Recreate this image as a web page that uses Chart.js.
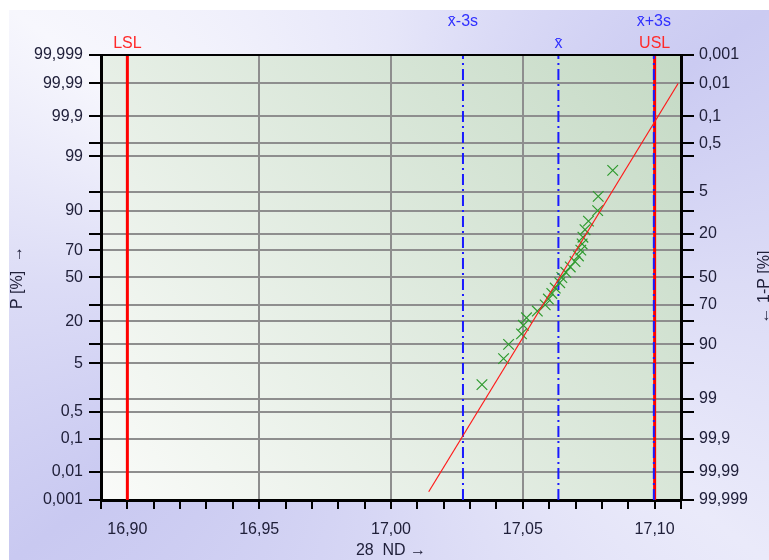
<!DOCTYPE html>
<html>
<head>
<meta charset="utf-8">
<script src="https://cdn.jsdelivr.net/npm/chart.js@4.4.1/dist/chart.umd.min.js"></script>
<style>
  html, body { margin: 0; padding: 0; background: #fff; }
  #wrap { position: relative; width: 769px; height: 560px; overflow: hidden; }
  #bg {
    position: absolute; left: 9px; top: 10px; right: 0; bottom: 0;
    background: conic-gradient(from 0deg at 50% 50%,
      #e6e6f9 0deg, #cbcbf2 54deg, #dcdcf6 90deg, #eaeafa 126deg,
      #d8d8f5 180deg, #c9c9f1 234deg, #dcdcf6 270deg, #f7f7fd 306deg, #e6e6f9 360deg);
  }
  #chart { position: absolute; left: 0; top: 0; }
</style>
</head>
<body>
<div id="wrap">
  <div id="bg"></div>
  <canvas id="chart" width="769" height="560"></canvas>
</div>
<script>
// measured values, sorted, with their plotting positions in %
const sampleX = [17.0345, 17.0427, 17.0446, 17.0495, 17.0502, 17.0514, 17.0555, 17.0585, 17.0597, 17.0610,
                 17.0623, 17.0640, 17.0648, 17.0663, 17.0680, 17.0698, 17.0711, 17.0720, 17.0725, 17.0728,
                 17.0736, 17.0749, 17.0784, 17.0786, 17.0841];
const sampleP = [2, 6, 10, 14, 18, 22, 26, 30, 34, 38,
                 42, 46, 50, 54, 58, 62, 66, 70, 74, 78,
                 82, 86, 90, 94, 98];

// fitted normal line (end points)
const fitX = [17.0143, 17.1089];
const fitP = [0.002, 99.99];

// limits and statistics lines
const limitNames = ['LSL', 'USL'];
const limitValues = [16.90, 17.10];
const statNames = ['x\u0304-3s', 'x\u0304', 'x\u0304+3s'];
const statValues = [17.0273, 17.0635, 17.0997];

// axes
const pGrid = [0.001, 0.01, 0.1, 0.5, 1, 5, 10, 20, 30, 50, 70, 80, 90, 95, 99, 99.5, 99.9, 99.99, 99.999];
const pLabels = [0.001, 0.01, 0.1, 0.5, 5, 20, 50, 70, 90, 99, 99.9, 99.99, 99.999];
const qLabels = [0.001, 0.01, 0.1, 0.5, 5, 20, 50, 70, 90, 99, 99.9, 99.99, 99.999]; // 1-P side
const xMajor = ['16,90', '16,95', '17,00', '17,05', '17,10'];

const fmt = v => String(v).replace('.', ',');

// inverse normal cdf (Acklam)
function probit(p) {
  const a = [-3.969683028665376e+01, 2.209460984245205e+02, -2.759285104469687e+02, 1.383577518672690e+02, -3.066479806614716e+01, 2.506628277459239e+00];
  const b = [-5.447609879822406e+01, 1.615858368580409e+02, -1.556989798598866e+02, 6.680131188771972e+01, -1.328068155288572e+01];
  const c = [-7.784894002430293e-03, -3.223964580411365e-01, -2.400758277161838e+00, -2.549732539343734e+00, 4.374664141464968e+00, 2.938163982698783e+00];
  const d = [7.784695709041462e-03, 3.224671290700398e-01, 2.445134137142996e+00, 3.754408661907416e+00];
  const pl = 0.02425;
  let q, r;
  if (p < pl) {
    q = Math.sqrt(-2 * Math.log(p));
    return (((((c[0]*q+c[1])*q+c[2])*q+c[3])*q+c[4])*q+c[5]) / ((((d[0]*q+d[1])*q+d[2])*q+d[3])*q+1);
  }
  if (p > 1 - pl) {
    q = Math.sqrt(-2 * Math.log(1 - p));
    return -(((((c[0]*q+c[1])*q+c[2])*q+c[3])*q+c[4])*q+c[5]) / ((((d[0]*q+d[1])*q+d[2])*q+d[3])*q+1);
  }
  q = p - 0.5; r = q * q;
  return (((((a[0]*r+a[1])*r+a[2])*r+a[3])*r+a[4])*r+a[5])*q / (((((b[0]*r+b[1])*r+b[2])*r+b[3])*r+b[4])*r+1);
}

// normal probability scale (values in %)
class ProbabilityScale extends Chart.Scale {
  determineDataLimits() {
    this.min = this.options.min;
    this.max = this.options.max;
  }
  buildTicks() {
    return pGrid.map(v => ({ value: v }));
  }
  getLabelForValue(v) { return fmt(v); }
  _dec(v) {
    const z0 = probit(this.min / 100), z1 = probit(this.max / 100);
    return (probit(v / 100) - z0) / (z1 - z0);
  }
  getPixelForValue(v) { return this.getPixelForDecimal(this._dec(v)); }
  getPixelForTick(i) { return this.getPixelForValue(this.ticks[i].value); }
  getValueForPixel(px) {
    const target = this.getDecimalForPixel(px);
    let lo = this.min, hi = this.max;
    for (let i = 0; i < 60; i++) {
      const mid = (lo + hi) / 2;
      if (this._dec(mid) < target) lo = mid; else hi = mid;
    }
    return (lo + hi) / 2;
  }
}
ProbabilityScale.id = 'probability';
ProbabilityScale.defaults = {};
Chart.register(ProbabilityScale);

Chart.defaults.font.family = '"Liberation Sans", Arial, sans-serif';
Chart.defaults.font.size = 16;
Chart.defaults.color = '#20203a';

const vline = (x, p0, p1) => [{ x: x, y: p0 }, { x: x, y: p1 }];
const yMin = pGrid[0], yMax = pGrid[pGrid.length - 1];

const decor = {
  id: 'decor',
  beforeDraw(chart) {
    const { ctx, chartArea: a } = chart;
    const g = ctx.createLinearGradient(a.left, a.bottom, a.right, a.top);
    g.addColorStop(0, '#fafbf9');
    g.addColorStop(1, '#c5dac5');
    ctx.save();
    ctx.fillStyle = g;
    ctx.fillRect(a.left, a.top, a.right - a.left, a.bottom - a.top);
    ctx.restore();
  },
  afterDraw(chart) {
    const { ctx, chartArea: a, scales } = chart;
    ctx.save();
    ctx.strokeStyle = '#000';
    ctx.lineWidth = 2;
    ctx.beginPath();
    ctx.moveTo(a.left - 2, a.top);
    ctx.lineTo(a.right + 1, a.top);
    ctx.stroke();

    ctx.font = '16px "Liberation Sans", Arial, sans-serif';
    ctx.textAlign = 'center';
    ctx.textBaseline = 'middle';
    ctx.fillStyle = '#ff2a2a';
    limitNames.forEach((n, i) => ctx.fillText(n, scales.x.getPixelForValue(limitValues[i]), 44));
    ctx.fillStyle = '#3030ff';
    const rows = [22, 44, 22];
    statNames.forEach((n, i) => ctx.fillText(n, scales.x.getPixelForValue(statValues[i]), rows[i]));

    ctx.fillStyle = '#20203a';
    ctx.translate(765, 287);
    ctx.rotate(-Math.PI / 2);
    ctx.fillText('\u2190 1-P [%]', 0, 0);
    ctx.restore();
  }
};

new Chart(document.getElementById('chart'), {
  type: 'scatter',
  data: {
    datasets: [
      {
        type: 'line',
        data: fitX.map((x, i) => ({ x: x, y: fitP[i] })),
        borderColor: '#ff1a1a',
        borderWidth: 1.2,
        pointRadius: 0,
        fill: false
      },
      {
        data: sampleX.map((x, i) => ({ x: x, y: sampleP[i] })),
        pointStyle: 'crossRot',
        pointRadius: 7.5,
        pointBorderWidth: 1.2,
        borderColor: '#2e9a2e',
        backgroundColor: '#2e9a2e'
      },
      ...statValues.map(v => ({
        type: 'line',
        data: vline(v, yMin, yMax),
        borderColor: '#1a1aff',
        borderWidth: 2,
        borderDash: [11, 4, 2, 4],
        pointRadius: 0,
        fill: false
      })),
      ...limitValues.map(v => ({
        type: 'line',
        data: vline(v, yMin, yMax),
        borderColor: '#ff0000',
        borderWidth: 3,
        pointRadius: 0,
        fill: false
      }))
    ]
  },
  options: {
    responsive: false,
    animation: false,
    layout: { padding: { top: 55, left: 0, right: 0, bottom: 0 } },
    plugins: { legend: { display: false }, tooltip: { enabled: false } },
    scales: {
      x: {
        type: 'linear',
        min: 16.89,
        max: 17.11,
        afterBuildTicks: s => {
          const t = [];
          for (let k = 1689; k <= 1711; k++) t.push({ value: k / 100 });
          s.ticks = t;
        },
        afterFit: s => { s.height = 60; },
        ticks: {
          autoSkip: false,
          maxRotation: 0,
          padding: 11,
          callback: v => {
            const k = Math.round(v * 100);
            return k % 5 === 0 ? xMajor[(k - 1690) / 5] : '';
          }
        },
        grid: {
          color: c => (c.tick && Math.round(c.tick.value * 100) % 5 === 0) ? '#8e8e8e' : 'rgba(0,0,0,0)',
          tickColor: '#000',
          lineWidth: 2,
          tickLength: 9
        },
        border: { color: '#000', width: 3 },
        title: { display: true, text: '28  ND \u2192', padding: { top: 0, bottom: 0 } }
      },
      y: {
        type: 'probability',
        position: 'left',
        min: yMin,
        max: yMax,
        afterFit: s => { s.width = 101; },
        ticks: {
          autoSkip: false,
          padding: 6,
          callback: v => pLabels.includes(v) ? fmt(v) : ''
        },
        grid: { color: '#8e8e8e', tickColor: '#000', lineWidth: 2, tickLength: 12 },
        border: { color: '#000', width: 3 },
        title: { display: true, text: 'P [%]  \u2192', padding: { top: 8, bottom: 0 } }
      },
      y2: {
        type: 'probability',
        position: 'right',
        min: yMin,
        max: yMax,
        afterFit: s => { s.width = 88; },
        ticks: {
          autoSkip: false,
          padding: 5,
          callback: v => {
            const q = qLabels.find(q => Math.abs(100 - q - v) < 1e-6);
            return q === undefined ? '' : fmt(q);
          }
        },
        grid: { drawOnChartArea: false, tickColor: '#000', lineWidth: 2, tickLength: 13 },
        border: { color: '#000', width: 3 }
      }
    }
  },
  plugins: [decor]
});
</script>
</body>
</html>
